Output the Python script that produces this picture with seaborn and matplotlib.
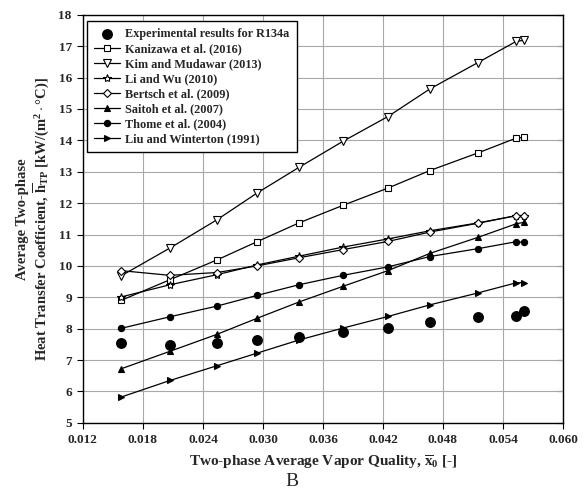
import numpy as np
import pandas as pd
import matplotlib
matplotlib.use("Agg")
import matplotlib.pyplot as plt
import seaborn as sns

# kualitas uap rata-rata (sumbu x)
x_kualitas = [0.0158, 0.0207, 0.0254, 0.0294, 0.0336, 0.0380, 0.0425, 0.0467, 0.0515, 0.0553, 0.0561]

h_eksperimen = [7.54, 7.49, 7.54, 7.63, 7.73, 7.88, 8.02, 8.20, 8.37, 8.42, 8.57]
h_kanizawa = [8.90, 9.56, 10.19, 10.77, 11.37, 11.93, 12.48, 13.04, 13.60, 14.07, 14.10]
h_kim = [9.68, 10.57, 11.47, 12.32, 13.14, 13.97, 14.76, 15.64, 16.48, 17.15, 17.19]
h_li_wu = [9.01, 9.40, 9.72, 10.03, 10.31, 10.60, 10.86, 11.12, 11.37, 11.60, 11.60]
h_bertsch = [9.85, 9.70, 9.79, 10.00, 10.26, 10.52, 10.78, 11.08, 11.36, 11.60, 11.60]
h_saitoh = [6.72, 7.28, 7.82, 8.33, 8.85, 9.35, 9.85, 10.40, 10.91, 11.34, 11.39]
h_thome = [8.01, 8.38, 8.72, 9.06, 9.40, 9.70, 9.97, 10.30, 10.55, 10.77, 10.75]
h_liu = [5.82, 6.35, 6.82, 7.22, 7.64, 8.02, 8.39, 8.76, 9.14, 9.46, 9.47]

nama_model = ["Kanizawa et al. (2016)", "Kim and Mudawar (2013)", "Li and Wu (2010)",
              "Bertsch et al. (2009)", "Saitoh et al. (2007)", "Thome et al. (2004)",
              "Liu and Winterton (1991)"]

sns.set_style("whitegrid")
plt.rcParams["font.family"] = ["Liberation Serif", "DejaVu Serif"]
plt.rcParams["mathtext.fontset"] = "custom"
plt.rcParams["mathtext.rm"] = "Liberation Serif:bold"
plt.rcParams["mathtext.it"] = "Liberation Serif:bold"
plt.rcParams["mathtext.bf"] = "Liberation Serif:bold"

fig = plt.figure(figsize=(5.84, 4.94), dpi=100)
ax = fig.add_axes([0.142, 0.144, 0.822, 0.826])

# titik eksperimen
sns.scatterplot(x=x_kualitas, y=h_eksperimen, ax=ax, s=62, color="black", edgecolor="black",
                linewidth=0, label="Experimental results for R134a", zorder=5)

gaya = [
    (h_kanizawa, "s", "white", 4),
    (h_kim, "v", "white", 5.5),
    (h_li_wu, "*", "white", 6),
    (h_bertsch, "D", "white", 4),
    (h_saitoh, "^", "black", 5),
    (h_thome, "o", "black", 4.5),
    (h_liu, ">", "black", 5),
]
for (nilai, penanda, isi, ukuran), nama in zip(gaya, nama_model):
    sns.lineplot(x=x_kualitas, y=nilai, ax=ax, color="black", linewidth=0.9, marker=penanda,
                 markersize=ukuran, markerfacecolor=isi, markeredgecolor="black",
                 markeredgewidth=0.8, label=nama, sort=False, zorder=4)

ax.set_xlim(0.012, 0.060)
ax.set_ylim(5, 18)
ax.set_xticks(np.arange(0.012, 0.0601, 0.006))
ax.set_xticklabels([f"{v:.3f}" for v in np.arange(0.012, 0.0601, 0.006)])
ax.set_yticks(range(5, 19))
ax.grid(True, color="#a8a8a8", linewidth=0.8)
for sisi in ax.spines.values():
    sisi.set_color("black")
    sisi.set_linewidth(1.0)
ax.tick_params(axis="both", labelsize=9.5, direction="out", length=4, color="black", pad=4,
               bottom=True, left=True)
for lbl in ax.get_xticklabels() + ax.get_yticklabels():
    lbl.set_fontweight("bold")

# tick ke dalam di sisi kanan
sumbu_kanan = ax.secondary_yaxis("right")
sumbu_kanan.set_yticks(range(5, 19))
sumbu_kanan.tick_params(direction="in", length=4, color="black", labelright=False)

ax.set_xlabel(r"Two-phase Average Vapor Quality, $\overline{\mathrm{x}}_{\mathrm{0}}$ [-]",
              fontsize=11, fontweight="bold", labelpad=5)
ax.set_ylabel("Average Two-phase\n" + r"Heat Transfer Coefficient, $\overline{\mathrm{h}}_{\mathrm{TP}}$ [kW/(m$^{\mathrm{2}}\cdot$°C)]",
              fontsize=10.5, fontweight="bold", labelpad=5)

leg = ax.legend(loc="upper left", bbox_to_anchor=(0.008, 0.985), frameon=True, fancybox=False,
                prop={"weight": "bold", "size": 8.8}, handlelength=2.1, labelspacing=0.24,
                borderpad=0.6, handletextpad=0.45, borderaxespad=0.0, edgecolor="black")
leg.get_frame().set_linewidth(1.0)
leg.get_frame().set_alpha(1)

fig.text(0.5, 0.008, "B", ha="center", va="bottom", fontsize=14)

fig.savefig("out.png", dpi=100)
